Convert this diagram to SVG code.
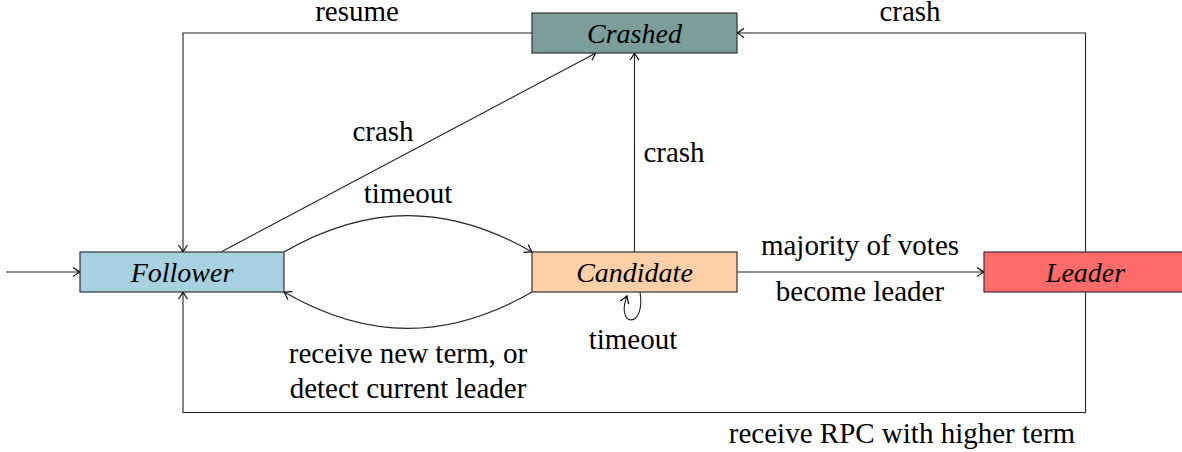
<svg xmlns="http://www.w3.org/2000/svg" width="1182" height="452" viewBox="0 0 1182 452">
<style>
.node{stroke:#333;stroke-width:1.2}
.edge{fill:none;stroke:#222;stroke-width:1.1}
</style>
<defs>
<marker id="arr" markerUnits="userSpaceOnUse" markerWidth="14" markerHeight="14" refX="11" refY="7" orient="auto">
<path d="M 4 2.5 Q 9 6 11 7 Q 9 8 4 11.5" fill="none" stroke="#000" stroke-width="1.2"/>
</marker>
</defs>
<rect width="1182" height="452" fill="#fff"/>
<g id="connectors">
<path class="edge" d="M 6 272 H 80" marker-end="url(#arr)"/>
<path class="edge" d="M 532 33 H 183 V 252" marker-end="url(#arr)"/>
<path class="edge" d="M 221 252 L 596 53" marker-end="url(#arr)"/>
<path class="edge" d="M 284 252 C 368 203.5 448 203.5 532 252" marker-end="url(#arr)"/>
<path class="edge" d="M 532 292 C 448 340.5 368 340.5 284 292" marker-end="url(#arr)"/>
<path class="edge" d="M 634.5 252 V 53" marker-end="url(#arr)"/>
<path class="edge" d="M 1085.5 252 V 33 H 737" marker-end="url(#arr)"/>
<path class="edge" d="M 737 272 H 984" marker-end="url(#arr)"/>
<path class="edge" d="M 1085.5 292 V 412.5 H 183 V 292" marker-end="url(#arr)"/>
<path class="edge" d="M 640 292 C 646 330 615 327 627 296" marker-end="url(#arr)"/>
</g>
<g id="labels">
<text x="357" y="21" font-size="29" font-family="Times New Roman" text-anchor="middle">resume</text>
<text x="910" y="21" font-size="29" font-family="Times New Roman" text-anchor="middle">crash</text>
<text x="383" y="141" font-size="29" font-family="Times New Roman" text-anchor="middle">crash</text>
<text x="408" y="203" font-size="29" font-family="Times New Roman" text-anchor="middle">timeout</text>
<text x="674" y="162" font-size="29" font-family="Times New Roman" text-anchor="middle">crash</text>
<text x="860" y="255" font-size="29" font-family="Times New Roman" text-anchor="middle">majority of votes</text>
<text x="860" y="301" font-size="29" font-family="Times New Roman" text-anchor="middle">become leader</text>
<text x="633" y="349" font-size="29" font-family="Times New Roman" text-anchor="middle">timeout</text>
<text x="408" y="363" font-size="29" font-family="Times New Roman" text-anchor="middle">receive new term, or</text>
<text x="408" y="398" font-size="29" font-family="Times New Roman" text-anchor="middle">detect current leader</text>
<text x="902" y="443" font-size="29" font-family="Times New Roman" text-anchor="middle">receive RPC with higher term</text>
</g>
<g id="follower">
<rect class="node" x="80" y="252" width="204" height="40" fill="#a7d0e0"/>
<text x="182" y="282" font-size="28" font-family="Times New Roman" font-style="italic" text-anchor="middle">Follower</text>
</g>
<g id="crashed">
<rect class="node" x="532" y="13" width="205" height="40" fill="#7b9e9a"/>
<text x="634.5" y="42.5" font-size="28" font-family="Times New Roman" font-style="italic" text-anchor="middle">Crashed</text>
</g>
<g id="candidate">
<rect class="node" x="532" y="252" width="205" height="40" fill="#ffd0a8"/>
<text x="634.5" y="282" font-size="28" font-family="Times New Roman" font-style="italic" text-anchor="middle">Candidate</text>
</g>
<g id="leader">
<rect class="node" x="984" y="252" width="203" height="40" fill="#ff6b6b"/>
<text x="1085.5" y="282" font-size="28" font-family="Times New Roman" font-style="italic" text-anchor="middle">Leader</text>
</g>
</svg>
